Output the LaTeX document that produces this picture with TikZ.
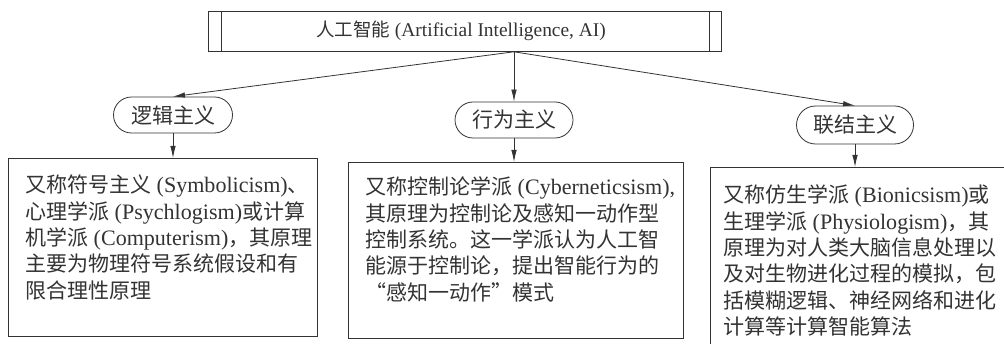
\documentclass[tikz,border=0pt]{standalone}
\usepackage{fontspec}
\setmainfont{Liberation Serif}[Scale=1.05]
\newfontfamily\cjk{Noto Sans CJK SC}
\newcommand\zh[1]{{\cjk #1}}
\usetikzlibrary{arrows.meta,shapes.misc}
\definecolor{ink}{gray}{0.2}
\begin{document}
\begin{tikzpicture}[x=1pt,y=-1pt,
  every node/.style={text=ink},
  line/.style={draw=ink,line width=0.8pt},
  arr/.style={draw=ink,line width=0.8pt,-{Latex[length=12pt,width=5.5pt]}},
  pill/.style={rounded rectangle,draw=ink,line width=0.8pt,inner sep=0pt,font=\fontsize{21}{26}\selectfont},
  boxframe/.style={draw=ink,line width=0.8pt,inner sep=0pt,anchor=north west},
  boxtext/.style={anchor=base west,inner sep=0pt,align=left,font=\fontsize{21}{26.3}\selectfont}]
\clip (0,0) rectangle (1004,344);
\fill[white] (0,0) rectangle (1004,344);
% top box
\node[line,anchor=north west,minimum width=513pt,minimum height=40pt,inner sep=0pt] (top) at (208,11) {};
\draw[line] ([xshift=13pt]top.north west) -- ([xshift=13pt]top.south west);
\draw[line] ([xshift=-12pt]top.north east) -- ([xshift=-12pt]top.south east);
\node[font=\fontsize{18.5}{22}\selectfont,inner sep=0pt] (toptext) at (461,31) {\zh{人工智能} (Artificial Intelligence, AI)};
% ovals
\node[pill,minimum width=119pt,minimum height=36pt] (o1) at (173,115) {\zh{逻辑主义}};
\node[pill,minimum width=118pt,minimum height=36pt] (o2) at (514,120) {\zh{行为主义}};
\node[pill,minimum width=117pt,minimum height=38pt] (o3) at (855,125) {\zh{联结主义}};
% boxes
\node[boxframe,minimum width=309pt,minimum height=178pt] (b1) at (8,158) {};
\node[boxframe,minimum width=335pt,minimum height=176pt] (b2) at (348,162) {};
\node[boxframe,minimum width=320pt,minimum height=200pt] (b3) at (710,167) {};
% texts (anchor = baseline of the last line)
\node[boxtext] (t1) at (25,298.2) {\zh{又称符号主义} (Symbolicism)\zh{、}\\
\zh{心理学派} (Psychlogism)\zh{或计算}\\
\zh{机学派} (Computerism)\zh{，其原理}\\
\zh{主要为物理符号系统假设和有}\\
\zh{限合理性原理}};
\node[boxtext] (t2) at (365,300.2) {\zh{又称控制论学派} (Cyberneticsism),\\
\zh{其原理为控制论及感知一动作型}\\
\zh{控制系统。这一学派认为人工智}\\
\zh{能源于控制论，提出智能行为的}\\
\zh{“感知一动作”模式}};
\node[boxtext] (t3) at (723,334.5) {\zh{又称仿生学派} (Bionicsism)\zh{或}\\
\zh{生理学派} (Physiologism)\zh{，其}\\
\zh{原理为对人类大脑信息处理以}\\
\zh{及对生物进化过程的模拟，包}\\
\zh{括模糊逻辑、神经网络和进化}\\
\zh{计算等计算智能算法}};
% connectors
\coordinate (split) at (top.south -| o2.north);
\draw[arr] (split) -- (o1.north);
\draw[arr] (split) -- (o2.north);
\draw[arr] (split) -- (o3.north);
\draw[arr] (o1.south) -- (b1.north -| o1.south);
\draw[arr] (o2.south) -- (b2.north -| o2.south);
\draw[arr] (o3.south) -- (b3.north -| o3.south);
\end{tikzpicture}
\end{document}
